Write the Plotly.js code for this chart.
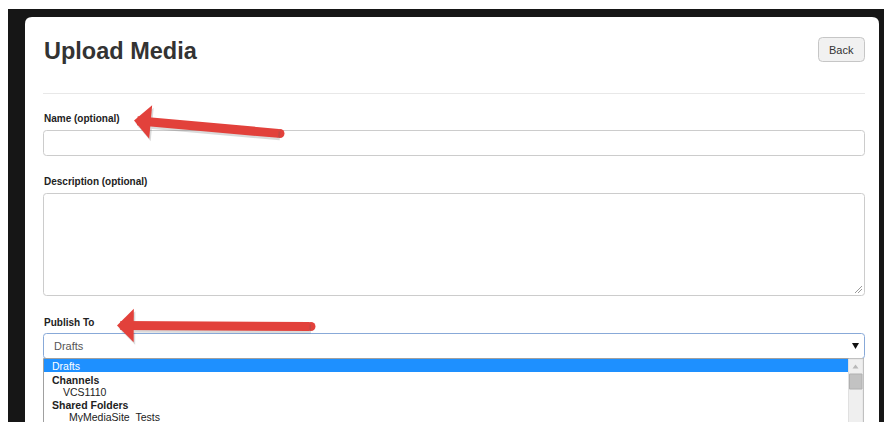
<!DOCTYPE html>
<html><head><meta charset="utf-8">
<script src="https://cdn.plot.ly/plotly-3.0.1.min.js"></script>
<style>html,body{margin:0;padding:0;background:#fff;overflow:hidden}#chart{width:884px;height:422px}</style>
</head><body><div id="chart"></div>
<script>
// ---- content ----
const pageTitle = 'Upload Media';
const buttonLabel = 'Back';
const fieldLabels = ['Name (optional)', 'Description (optional)', 'Publish To'];
const selectValue = 'Drafts';
const listItems = ['Drafts', 'Channels', 'VCS1110', 'Shared Folders', 'MyMediaSite_Tests'];
const listKinds = ['selected', 'group', 'item', 'group', 'item'];

// ---- layout helpers ----
const FONT = 'Liberation Sans, Arial, sans-serif';
function rr(x0, y0, x1, y1, r) {
  return `M${x0+r},${y0} L${x1-r},${y0} Q${x1},${y0} ${x1},${y0+r} L${x1},${y1-r} Q${x1},${y1} ${x1-r},${y1} L${x0+r},${y1} Q${x0},${y1} ${x0},${y1-r} L${x0},${y0+r} Q${x0},${y0} ${x0+r},${y0} Z`;
}
function shp(path, fill, line, lw) {
  return {type:'path', xref:'x', yref:'y', path:path, fillcolor:fill, line:{color:line||'rgba(0,0,0,0)', width:lw===undefined?1:lw}, layer:'below'};
}
function rect(x0,y0,x1,y1,fill,line,lw){
  return {type:'rect', xref:'x', yref:'y', x0:x0,y0:y0,x1:x1,y1:y1, fillcolor:fill, line:{color:line||'rgba(0,0,0,0)', width:lw||0}, layer:'below'};
}
function txt(s, x, y, size, color, bold, anchor) {
  return {text: bold ? '<b>'+s+'</b>' : s, x:x, y:y, xref:'x', yref:'y', xanchor:anchor||'left', yanchor:'middle',
          showarrow:false, font:{family:FONT, size:size, color:color}, borderpad:0};
}

const shapes = [
  // dark frame
  rect(8, 9, 884, 422, '#161616'),
  shp(rr(25, 17, 879, 460, 7), '#ffffff'),
  // back button
  shp(rr(818.5, 37.5, 864.5, 61.5, 4), '#f1f1f1', '#c6c6c6', 1),
  // separator
  {type:'line', xref:'x', yref:'y', x0:43, x1:865, y0:93.5, y1:93.5, line:{color:'#e8e8e8', width:1}, layer:'below'},
  // name input
  shp(rr(43.5, 130.5, 864.5, 155.5, 3), '#ffffff', '#cccccc', 1),
  // description textarea
  shp(rr(43.5, 193.5, 864.5, 295.5, 3), '#ffffff', '#cccccc', 1),
  // resize grip
  {type:'line', xref:'x', yref:'y', x0:855, y0:293, x1:862, y1:286, line:{color:'#9a9a9a', width:1}, layer:'below'},
  {type:'line', xref:'x', yref:'y', x0:858, y0:293, x1:862, y1:289, line:{color:'#9a9a9a', width:1}, layer:'below'},
  // select box
  shp(rr(43.5, 333.5, 864.5, 358.5, 3), '#ffffff', '#88a9d8', 1),
  // dropdown list
  rect(43.5, 358.5, 863.5, 430, '#ffffff', '#a0a0a0', 1),
  rect(44, 359, 848, 372, '#1e90ff'),
  // scrollbar
  rect(848.5, 359, 863, 430, '#efefef', '#e0e0e0', 1),
  rect(849.5, 374, 862, 389, '#c2c2c2', '#b0b0b0', 1),
  {type:'path', xref:'x', yref:'y', path:'M852.5,368.5 L855.5,364.5 L858.5,368.5 Z', fillcolor:'#b8b8b8', line:{width:0}, layer:'below'},
  // select arrow
  {type:'path', xref:'x', yref:'y', path:'M852,343 L859,343 L855.5,349 Z', fillcolor:'#111111', line:{width:0}, layer:'below'}
];

const annotations = [
  txt(pageTitle, 43, 51, 23.5, '#333333', true),
  txt(buttonLabel, 841.5, 49.5, 11, '#333333', false, 'center'),
  txt(fieldLabels[0], 43, 118.5, 10, '#222222', true),
  txt(fieldLabels[1], 43, 181, 10, '#222222', true),
  txt(fieldLabels[2], 43, 322, 10, '#222222', true),
  txt(selectValue, 53, 346, 11, '#555555', false)
];
const itemX = {selected:51, group:51, item:62};
const itemY = [366, 380, 392, 405, 417];
listItems.forEach((s, i) => {
  const k = listKinds[i];
  const x = (i === 4) ? 68 : itemX[k];
  annotations.push(txt(s, x, itemY[i], 10.5, k === 'selected' ? '#ffffff' : '#222222', k === 'group'));
});

// red arrows (tip <- tail)
const arrows = [
  {tip:[134, 120.5], tail:[280, 133.5]},
  {tip:[117, 325.5], tail:[311, 326.5]}
];
const RED = '#e2413b';
arrows.forEach(a => {
  annotations.push({x:a.tip[0]+1.5, y:a.tip[1]+2.5, ax:a.tail[0]+1.5, ay:a.tail[1]+2.5, xref:'x', yref:'y', axref:'x', ayref:'y',
    text:'', showarrow:true, arrowhead:1, arrowsize:0.62, arrowwidth:9, arrowcolor:'rgba(90,90,90,0.22)', standoff:0, startstandoff:0});
  annotations.push({x:a.tip[0], y:a.tip[1], ax:a.tail[0], ay:a.tail[1], xref:'x', yref:'y', axref:'x', ayref:'y',
    text:'', showarrow:true, arrowhead:1, arrowsize:0.62, arrowwidth:9, arrowcolor:RED, standoff:0, startstandoff:0});
  shapes.push({type:'circle', xref:'x', yref:'y', x0:a.tail[0]-4.5, x1:a.tail[0]+4.5, y0:a.tail[1]-4.5, y1:a.tail[1]+4.5,
    fillcolor:RED, line:{width:0}, layer:'above'});
});

const layout = {
  width:884, height:422, margin:{l:0, r:0, t:0, b:0, pad:0},
  paper_bgcolor:'#ffffff', plot_bgcolor:'#ffffff', showlegend:false,
  xaxis:{range:[0, 884], visible:false, fixedrange:true},
  yaxis:{range:[422, 0], visible:false, fixedrange:true},
  shapes:shapes, annotations:annotations
};
Plotly.newPlot('chart', [{x:[0], y:[0], mode:'markers', marker:{opacity:0}, hoverinfo:'skip'}], layout, {displayModeBar:false, staticPlot:true});
</script></body></html>
